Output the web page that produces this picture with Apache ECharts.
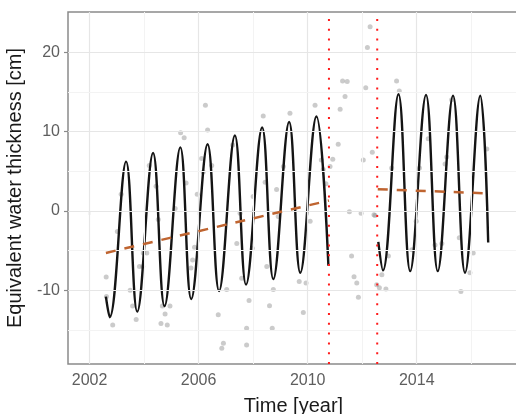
<!DOCTYPE html>
<html>
<head>
<meta charset="utf-8">
<script src="https://cdn.jsdelivr.net/npm/echarts@6/dist/echarts.min.js"></script>
<style>html,body{margin:0;padding:0;background:#fff;}#c{width:516px;height:414px;}</style>
</head>
<body>
<div id="c"></div>
<script>
// ---- data ----
var xTickLabels = [2002, 2006, 2010, 2014];
var xMinorGrid = [2004, 2008, 2012, 2016];
var yTickLabels = [-10, 0, 10, 20];
var yMinorGrid = [-15, -5, 5, 15];

var obsYears = [2002.61,2002.62,2002.85,2003.02,2003.16,2003.49,2003.58,2003.71,2003.83,2003.95,2003.97,2004.10,2004.19,2004.44,2004.52,2004.62,2004.67,2004.77,2004.85,2004.95,2005.14,2005.34,2005.47,2005.54,2005.72,2005.78,2005.85,2005.95,2006.11,2006.17,2006.25,2006.33,2006.48,2006.72,2006.85,2006.91,2007.03,2007.25,2007.40,2007.52,2007.58,2007.76,2007.76,2007.85,2007.97,2008.00,2008.37,2008.44,2008.50,2008.60,2008.70,2008.74,2008.86,2008.92,2009.11,2009.35,2009.69,2009.84,2009.94,2010.09,2010.27,2010.50,2010.57,2010.67,2010.82,2010.92,2011.12,2011.19,2011.28,2011.37,2011.45,2011.53,2011.61,2011.70,2011.80,2011.86,2011.96,2012.04,2012.13,2012.19,2012.29,2012.37,2012.43,2012.47,2012.53,2012.63,2012.72,2012.87,2012.96,2013.08,2013.26,2013.36,2013.82,2013.98,2014.10,2014.42,2014.67,2014.92,2015.04,2015.10,2015.28,2015.56,2015.62,2015.95,2016.07,2016.57];
var obsValues = [-8.35,-10.8,-14.4,-2.6,2.1,-10.0,-12.0,-13.7,-7.0,-7.0,-5.3,-5.3,5.7,3.1,-1.1,-14.2,-12.0,-13.0,-14.4,-12.0,0.3,9.85,9.2,3.5,-7.2,-6.2,-4.6,2.1,6.6,4.9,13.3,10.2,5.7,-13.1,-17.3,-16.7,-9.9,8.3,-4.1,-0.3,-8.5,-14.8,-16.9,-11.3,-4.7,1.8,11.95,3.6,-7.0,-11.95,-14.8,-9.9,2.7,-0.7,5.6,12.3,-8.9,-12.8,-9.1,-1.3,13.3,6.4,5.2,3.4,5.6,6.5,8.4,12.8,16.35,14.4,16.3,-0.1,-5.7,-8.3,-9.1,-10.9,-0.3,6.4,15.5,20.6,23.2,7.4,-0.5,-0.6,-9.3,-9.7,-8.05,-9.85,-5.7,5.4,16.35,15.1,-4.9,-1.3,5.4,9.1,-4.3,-4.1,5.9,6.8,14.0,-3.4,-10.15,-7.8,-5.3,7.8];

// fitted seasonal curve: ends, peaks and troughs
var fit1Years = [2002.60,2002.74,2003.34,2003.75,2004.33,2004.75,2005.33,2005.73,2006.33,2006.75,2007.33,2007.74,2008.33,2008.74,2009.32,2009.73,2010.32,2010.76];
var fit1Values = [-10.8,-13.4,6.2,-12.7,7.3,-12.0,8.0,-11.1,8.4,-10.1,9.5,-9.3,10.5,-8.6,11.2,-7.8,11.9,-6.9];

var fit2Years = [2012.59,2012.76,2013.33,2013.76,2014.34,2014.77,2015.33,2015.77,2016.33,2016.62];
var fit2Values = [-3.9,-7.5,14.7,-7.6,14.6,-7.6,14.5,-7.8,14.5,-4.0];

var trend1Years = [2002.60, 2010.78];
var trend1Values = [-5.3, 1.3];
var trend2Years = [2012.57, 2016.62];
var trend2Values = [2.73, 2.2];

var breakYears = [2010.78, 2012.55];

var xMin = 2001.21, xMax = 2017.75, yMin = -19.3, yMax = 25.06;

function zip(a, b) { return a.map(function (v, i) { return [v, b[i]]; }); }

var chart = echarts.init(document.getElementById('c'), null, {renderer: 'canvas'});

var gridMarks = [];
xTickLabels.forEach(function (v) { gridMarks.push({xAxis: v, lineStyle: {color: '#e6e6e6', width: 1.2, type: 'solid'}}); });
xMinorGrid.forEach(function (v) { gridMarks.push({xAxis: v, lineStyle: {color: '#f3f3f3', width: 1, type: 'solid'}}); });
yTickLabels.forEach(function (v) { gridMarks.push({yAxis: v, lineStyle: {color: '#e6e6e6', width: 1.2, type: 'solid'}}); });
yMinorGrid.forEach(function (v) { gridMarks.push({yAxis: v, lineStyle: {color: '#f3f3f3', width: 1, type: 'solid'}}); });

var breakSeries = breakYears.map(function (b) {
  return {
    type: 'line', data: [[b, yMin], [b, yMax]], symbol: 'none', silent: true, z: 6,
    lineStyle: {color: '#ff1a1a', width: 2, type: [2, 7.8]}
  };
});

var font = 'Liberation Sans, Arial, sans-serif';
var option = {
  backgroundColor: '#ffffff',
  animation: false,
  grid: {left: 68, top: 12, right: -3, bottom: 50, outerBoundsMode: 'none', containLabel: false,
    show: true, borderColor: '#8a8a8a', borderWidth: 1.5, backgroundColor: 'transparent'},
  xAxis: {
    type: 'value', min: xMin, max: xMax,
    name: 'Time [year]', nameLocation: 'middle', nameGap: 32,
    nameTextStyle: {fontFamily: font, fontSize: 20, color: '#1a1a1a'},
    axisLine: {show: false},
    axisTick: {show: true, length: 4, customValues: xTickLabels, lineStyle: {color: '#8a8a8a', width: 1.2}},
    axisLabel: {customValues: xTickLabels, margin: 9, fontFamily: font, fontSize: 16, color: '#5e5e5e',
      formatter: function (v) { return String(Math.round(v)); }},
    splitLine: {show: false}
  },
  yAxis: {
    type: 'value', min: yMin, max: yMax,
    name: 'Equivalent water thickness [cm]', nameLocation: 'middle', nameGap: 29, nameRotate: 90,
    nameTextStyle: {fontFamily: font, fontSize: 20, color: '#1a1a1a'},
    axisLine: {show: false},
    axisTick: {show: true, length: 4, customValues: yTickLabels, lineStyle: {color: '#8a8a8a', width: 1.2}},
    axisLabel: {customValues: yTickLabels, margin: 8, fontFamily: font, fontSize: 16, color: '#5e5e5e',
      formatter: function (v) { return String(Math.round(v)); }},
    splitLine: {show: false}
  },
  series: [
    {
      type: 'line', data: [], silent: true, z: 1,
      markLine: {silent: true, symbol: 'none', label: {show: false}, animation: false, data: gridMarks}
    },
    {
      type: 'scatter', data: zip(obsYears, obsValues), symbolSize: 5, z: 3, silent: true,
      itemStyle: {color: 'rgba(125,125,125,0.5)'}
    },
    {
      type: 'line', data: zip(fit1Years, fit1Values), smooth: 0.4, symbol: 'none', z: 4, silent: true,
      lineStyle: {color: '#141414', width: 2.4}
    },
    {
      type: 'line', data: zip(fit2Years, fit2Values), smooth: 0.4, symbol: 'none', z: 4, silent: true,
      lineStyle: {color: '#141414', width: 2.4}
    },
    {
      type: 'line', data: zip(trend1Years, trend1Values), symbol: 'none', z: 5, silent: true,
      lineStyle: {color: '#bf6430', width: 2.5, type: [10, 9]}
    },
    {
      type: 'line', data: zip(trend2Years, trend2Values), symbol: 'none', z: 5, silent: true,
      lineStyle: {color: '#bf6430', width: 2.5, type: [10, 9]}
    }
  ].concat(breakSeries)
};
chart.setOption(option);
</script>
</body>
</html>
